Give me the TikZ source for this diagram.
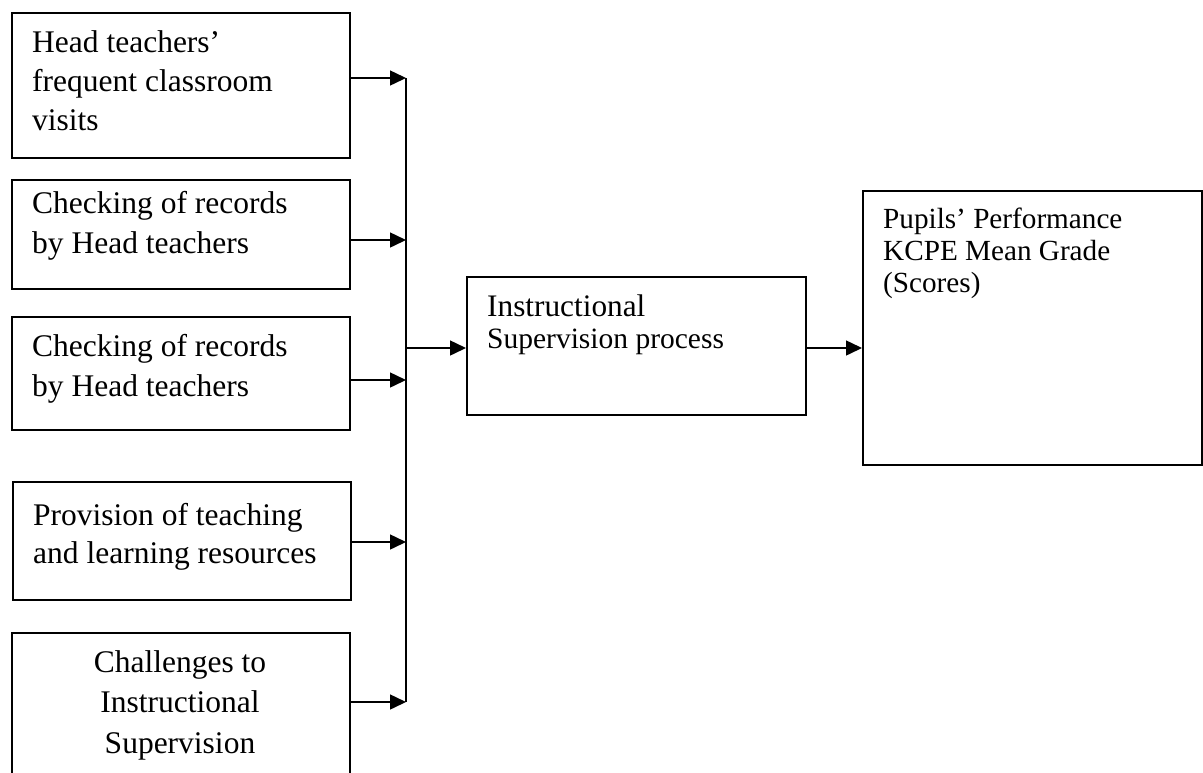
\documentclass[tikz,border=0pt]{standalone}
\usepackage{fontspec}
\setmainfont{Liberation Serif}
\usetikzlibrary{arrows.meta}
\tikzset{
  box/.style={draw, line width=1.5pt, inner sep=0pt, anchor=north west},
  conn/.style={line width=1.5pt},
  arr/.style={line width=1.5pt, -{Triangle[length=16pt,width=15pt]}},
  txt/.style={inner sep=0pt, anchor=base west}
}
\begin{document}
\begin{tikzpicture}[x=1pt,y=-1pt]
\useasboundingbox (0,0) rectangle (1203,772);
\clip (0,0) rectangle (1203,772);
% boxes
\node[box, minimum width=338pt, minimum height=145pt] (b1) at (11,12) {};
\node[box, minimum width=338pt, minimum height=109pt] (b2) at (11,179) {};
\node[box, minimum width=338pt, minimum height=113pt] (b3) at (11,316) {};
\node[box, minimum width=338pt, minimum height=118pt] (b4) at (12,481) {};
\node[box, minimum width=338pt, minimum height=170pt] (b5) at (11,632) {};
\node[box, minimum width=339pt, minimum height=138pt] (ins) at (466,276) {};
\node[box, minimum width=339pt, minimum height=274pt] (pup) at (862,190) {};
% texts
\node[txt] (t1) at (32,52) {\fontsize{31.5}{39}\selectfont\begin{tabular}[t]{@{}l@{}}Head teachers’\\frequent classroom\\visits\end{tabular}};
\node[txt] (t2) at (32,213) {\fontsize{31.5}{40}\selectfont\begin{tabular}[t]{@{}l@{}}Checking of records\\by Head teachers\end{tabular}};
\node[txt] (t3) at (32,356) {\fontsize{31.5}{40.5}\selectfont\begin{tabular}[t]{@{}l@{}}Checking of records\\by Head teachers\end{tabular}};
\node[txt] (t4) at (33,525) {\fontsize{31.5}{38}\selectfont\begin{tabular}[t]{@{}l@{}}Provision of teaching\\and learning resources\end{tabular}};
\node[inner sep=0pt, anchor=base] (t5) at (180,672) {\fontsize{31.5}{40.7}\selectfont\begin{tabular}[t]{@{}c@{}}Challenges to\\Instructional\\Supervision\end{tabular}};
\node[txt] (t6) at (487,316.5) {\fontsize{31.3}{32}\selectfont\begin{tabular}[t]{@{}l@{}}Instructional\\{\fontsize{29.5}{32}\selectfont Supervision process}\end{tabular}};
\node[txt] (t7) at (883,228) {\fontsize{29.2}{32}\selectfont\begin{tabular}[t]{@{}l@{}}Pupils’ Performance\\KCPE Mean Grade\\(Scores)\end{tabular}};
% junction coordinates on the vertical bus
\coordinate (j1) at (406,78);
\coordinate (j2) at (406,240);
\coordinate (j3) at (406,380);
\coordinate (j4) at (406,542);
\coordinate (j5) at (406,702);
\coordinate (jm) at (406,348);
% connectors
\draw[conn] (j1) -- (j5);
\draw[arr] (b1.east |- j1) -- (j1);
\draw[arr] (b2.east |- j2) -- (j2);
\draw[arr] (b3.east |- j3) -- (j3);
\draw[arr] (b4.east |- j4) -- (j4);
\draw[arr] (b5.east |- j5) -- (j5);
\draw[arr] (jm) -- (ins.west |- jm);
\draw[arr] (ins.east |- jm) -- (pup.west |- jm);
\end{tikzpicture}
\end{document}
